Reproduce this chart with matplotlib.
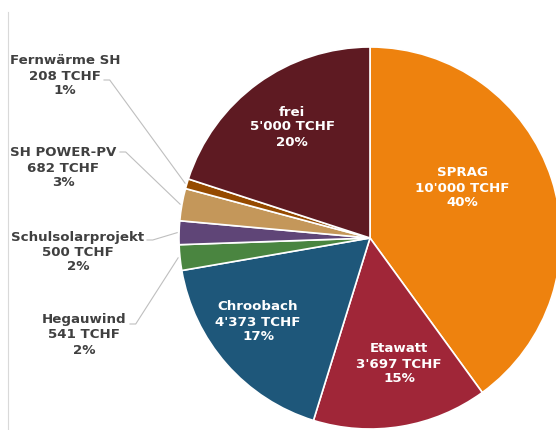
import numpy as np
import matplotlib.pyplot as plt
from matplotlib.lines import Line2D

# Daten (TCHF)
names = ["SPRAG", "Etawatt", "Chroobach", "Hegauwind", "Schulsolarprojekt",
         "SH POWER-PV", "Fernwärme SH", "frei"]
values = [10000, 3697, 4373, 541, 500, 682, 208, 5000]
value_labels = ["10'000", "3'697", "4'373", "541", "500", "682", "208", "5'000"]
pct_labels = ["40%", "15%", "17%", "2%", "2%", "3%", "1%", "20%"]
colors = ["#EE820E", "#A02638", "#1E577A", "#4A8540", "#5F4577",
          "#C4975A", "#954A00", "#5E1A22"]

W, H = 556, 430
cx, cy, R = 370, 238, 191


def to_data(px, py):
    return (px - cx) / R, (cy - py) / R


fig = plt.figure(figsize=(W / 100, H / 100), dpi=100)
ax = fig.add_axes([(cx - R) / W, (H - cy - R) / H, 2 * R / W, 2 * R / H])

wedges, _ = ax.pie(values, colors=colors, startangle=90, counterclock=False,
                   radius=1, wedgeprops=dict(edgecolor="white", linewidth=1.2))
for w in wedges:
    w.set_clip_on(False)
ax.set_xlim(-1, 1)
ax.set_ylim(-1, 1)
ax.set_axis_off()

# Label positions (pixel, middle line)
inside = {0: (462, 188), 1: (399, 364), 2: (258, 322), 7: (292, 127)}
outside = {6: (65, 76), 5: (63, 168), 4: (78, 252), 3: (84, 335)}
# leader line start points (pixel)
leader_start = {6: (104, 80), 5: (120, 152), 4: (147, 240), 3: (130, 324)}

fs = 9.6
for i in range(len(values)):
    txt = f"{names[i]}\n{value_labels[i]} TCHF\n{pct_labels[i]}"
    if i in inside:
        x, y = to_data(*inside[i])
        ax.text(x, y, txt, ha="center", va="center", color="white",
                fontsize=fs, fontweight="bold", linespacing=1.2)
    else:
        x, y = to_data(*outside[i])
        ax.text(x, y, txt, ha="center", va="center", color="#404040",
                fontsize=fs, fontweight="bold", linespacing=1.2,
                clip_on=False)
        w = wedges[i]
        ang = np.deg2rad((w.theta1 + w.theta2) / 2)
        ex, ey = 1.01 * np.cos(ang), 1.01 * np.sin(ang)
        sx, sy = to_data(*leader_start[i])
        ax.plot([sx, sx + 0.03, ex], [sy, sy, ey], color="#BFBFBF",
                linewidth=0.8, clip_on=False)

# feine Rahmenlinie links
fig.add_artist(Line2D([8 / W, 8 / W], [0, 1 - 12 / H], color="#D9D9D9",
                      linewidth=0.8))

fig.savefig("out.png", dpi=100)
